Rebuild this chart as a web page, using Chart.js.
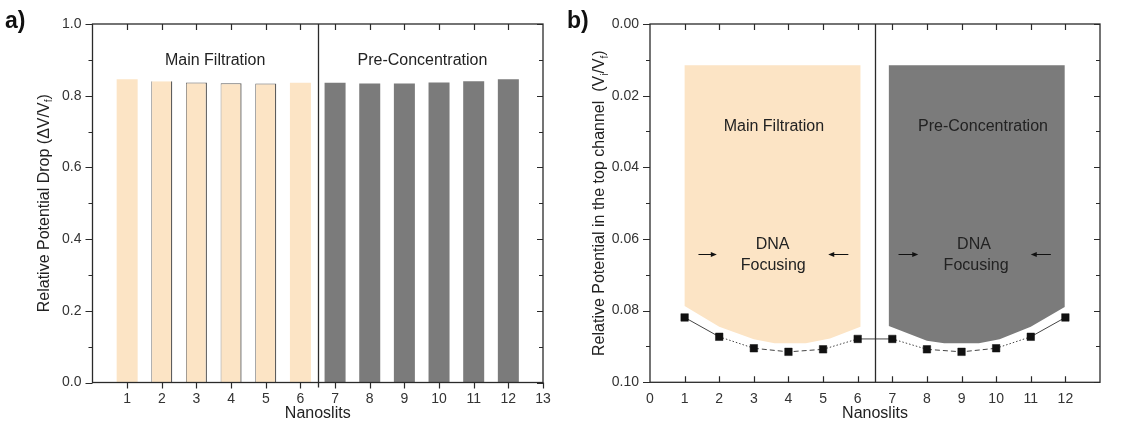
<!DOCTYPE html>
<html><head><meta charset="utf-8">
<script src="https://cdn.jsdelivr.net/npm/chart.js@4/dist/chart.umd.min.js"></script>
<style>
html,body{margin:0;padding:0;background:#fff;width:1133px;height:427px;overflow:hidden}
#wa{position:absolute;left:0;top:0;width:566px;height:427px}
#wb{position:absolute;left:566px;top:0;width:567px;height:427px}
canvas{display:block}
</style></head><body>
<div id="wa"><canvas id="ca" width="566" height="427"></canvas></div>
<div id="wb"><canvas id="cb" width="567" height="427"></canvas></div>
<script>
// ---------------- data ----------------
const slitsMain = [1, 2, 3, 4, 5, 6];
const slitsPre = [7, 8, 9, 10, 11, 12];
const dropMain = [0.846, 0.840, 0.837, 0.835, 0.834, 0.836];
const dropPre = [0.836, 0.834, 0.834, 0.837, 0.840, 0.846];

const nanoslits = [1, 2, 3, 4, 5, 6, 7, 8, 9, 10, 11, 12];
const topPotential = [0.0819, 0.0873, 0.0905, 0.0915, 0.0908, 0.0879, 0.0879, 0.0908, 0.0915, 0.0905, 0.0873, 0.0819];

const mainZoneX = [1.0, 1.0, 2.0, 3.0, 3.6, 4.5, 5.2, 6.08, 6.08, 1.0];
const mainZoneY = [0.0115, 0.0787, 0.0845, 0.0880, 0.0891, 0.0891, 0.0878, 0.0845, 0.0115, 0.0115];
const preZoneX = [6.9, 6.9, 8.0, 8.5, 9.5, 10.1, 11.0, 11.98, 11.98, 6.9];
const preZoneY = [0.0115, 0.0843, 0.0884, 0.0891, 0.0891, 0.0880, 0.0845, 0.0790, 0.0115, 0.0115];

const xTicksA = [1, 2, 3, 4, 5, 6, 7, 8, 9, 10, 11, 12, 13];
const yTicksA = [0, 0.2, 0.4, 0.6, 0.8, 1.0];
const xTicksB = [0, 1, 2, 3, 4, 5, 6, 7, 8, 9, 10, 11, 12];
const yTicksB = [0, 0.02, 0.04, 0.06, 0.08, 0.10];

// ---------------- styles ----------------
const FONT = "'Liberation Sans', Arial, sans-serif";
const PEACH = '#FCE4C5';
const GREY = '#7B7B7B';
const INK = '#2a2a2a';
const segDash = [[], [1.5, 2], [5, 3], [5, 3], [1.5, 2], [], [1.5, 2], [5, 3], [5, 3], [1.5, 2], []];

function drawRich(ctx, parts, cx, cy, size, rotate) {
  ctx.save();
  ctx.translate(cx, cy);
  if (rotate) ctx.rotate(-Math.PI / 2);
  ctx.fillStyle = '#222';
  ctx.textBaseline = 'middle';
  ctx.textAlign = 'left';
  let total = 0;
  const fnt = p => (p.sub ? Math.round(size * 0.65) : size) + 'px ' + FONT;
  parts.forEach(p => { ctx.font = fnt(p); total += ctx.measureText(p.t).width; });
  let x = -total / 2;
  parts.forEach(p => {
    ctx.font = fnt(p);
    ctx.fillText(p.t, x, p.sub ? size * 0.3 : 0);
    x += ctx.measureText(p.t).width;
  });
  ctx.restore();
}

function makeDecor(cfg) {
  return {
    id: 'decor',
    afterDatasetsDraw(chart) {
      const ctx = chart.ctx, a = chart.chartArea, x = chart.scales.x, y = chart.scales.y;
      ctx.save();
      // divider
      ctx.strokeStyle = INK; ctx.lineWidth = 1.3;
      const dx = Math.round(x.getPixelForValue(cfg.divider)) + 0.5;
      ctx.beginPath(); ctx.moveTo(dx, a.top); ctx.lineTo(dx, a.bottom + cfg.dividerExtra); ctx.stroke();
      // texts
      ctx.fillStyle = '#222';
      ctx.textAlign = 'center'; ctx.textBaseline = 'middle';
      ctx.font = '16px ' + FONT;
      cfg.texts.forEach(t => ctx.fillText(t.text, x.getPixelForValue(t.x), y.getPixelForValue(t.y)));
      // arrows
      ctx.strokeStyle = '#111'; ctx.fillStyle = '#111'; ctx.lineWidth = 1;
      (cfg.arrows || []).forEach(ar => {
        const x1 = x.getPixelForValue(ar.from), x2 = x.getPixelForValue(ar.to), py = Math.round(y.getPixelForValue(ar.y)) + 0.5;
        const dir = Math.sign(x2 - x1);
        ctx.beginPath(); ctx.moveTo(x1, py); ctx.lineTo(x2 - dir * 4, py); ctx.stroke();
        ctx.beginPath(); ctx.moveTo(x2, py); ctx.lineTo(x2 - dir * 6, py - 2.5); ctx.lineTo(x2 - dir * 6, py + 2.5); ctx.closePath(); ctx.fill();
      });
      // frame
      ctx.strokeStyle = INK; ctx.lineWidth = 1.3;
      ctx.strokeRect(a.left, a.top, a.right - a.left, a.bottom - a.top);
      // x ticks
      ctx.lineWidth = 1.2;
      cfg.xTicks.forEach(v => {
        const px = Math.round(x.getPixelForValue(v)) + 0.5;
        if (Math.abs(px - a.left) < 2) return;
        ctx.beginPath();
        ctx.moveTo(px, a.bottom); ctx.lineTo(px, a.bottom + (cfg.xBottomIn ? -6 : 6));
        if (Math.abs(px - a.right) > 2) { ctx.moveTo(px, a.top); ctx.lineTo(px, a.top + 6); }
        ctx.stroke();
      });
      // y ticks major / minor
      const yt = cfg.yTicks;
      for (let i = 0; i < yt.length; i++) {
        const py = Math.round(y.getPixelForValue(yt[i])) + 0.5;
        ctx.beginPath();
        ctx.moveTo(a.left, py); ctx.lineTo(a.left - 7, py);
        ctx.moveTo(a.right, py); ctx.lineTo(a.right - 6, py);
        ctx.stroke();
        if (i < yt.length - 1) {
          const pm = Math.round(y.getPixelForValue((yt[i] + yt[i + 1]) / 2)) + 0.5;
          ctx.beginPath();
          ctx.moveTo(a.left, pm); ctx.lineTo(a.left - 4, pm);
          ctx.moveTo(a.right, pm); ctx.lineTo(a.right - 4, pm);
          ctx.stroke();
        }
      }
      // axis titles
      drawRich(ctx, [{t: 'Nanoslits'}], (a.left + a.right) / 2, a.bottom + 31, 16, false);
      drawRich(ctx, cfg.yTitle, a.left + cfg.yTitleOffset, (a.top + a.bottom) / 2, 16, true);
      // panel letter
      ctx.fillStyle = '#111';
      ctx.font = 'bold 23px ' + FONT;
      ctx.textAlign = 'left'; ctx.textBaseline = 'alphabetic';
      ctx.fillText(cfg.letter, cfg.letterX, 28);
      ctx.restore();
    }
  };
}

function scaleOpts(min, max, ticksArr, fmt, reverse, pad, fit) {
  return {
    type: 'linear', min: min, max: max, reverse: !!reverse, offset: false,
    grid: {display: false, drawTicks: false}, border: {display: false},
    ticks: {color: '#333', font: {family: FONT, size: 14}, padding: pad, callback: fmt, maxRotation: 0, autoSkip: false},
    afterBuildTicks: s => { s.ticks = ticksArr.map(v => ({value: v})); },
    afterFit: fit
  };
}

// ---------------- panel a ----------------
new Chart(document.getElementById('ca'), {
  type: 'bar',
  data: {
    datasets: [
      {
        label: 'Main Filtration',
        data: slitsMain.map((s, i) => ({x: s, y: dropMain[i]})),
        backgroundColor: PEACH,
        borderColor: '#5d5d5d',
        borderSkipped: false,
        borderWidth: c => (c.dataIndex === 0 || c.dataIndex === 5) ? 0 :
          {left: 0.8, right: 1.3, top: (c.dataIndex >= 2 && c.dataIndex <= 4) ? 1 : 0, bottom: 0}
      },
      {
        label: 'Pre-Concentration',
        data: slitsPre.map((s, i) => ({x: s, y: dropPre[i]})),
        backgroundColor: GREY,
        borderWidth: 0
      }
    ]
  },
  options: {
    responsive: false, animation: false, devicePixelRatio: 1,
    layout: {padding: {left: 0, right: 23, top: 24, bottom: 0}},
    plugins: {legend: {display: false}, tooltip: {enabled: false}},
    datasets: {bar: {grouped: false, barPercentage: 0.606, categoryPercentage: 1}},
    scales: {
      x: scaleOpts(0, 13, xTicksA, v => String(v), false, 8, s => { s.height = 44.5; }),
      y: scaleOpts(0, 1, yTicksA, v => v.toFixed(1), false, 11, s => { s.width = 92.5; })
    }
  },
  plugins: [makeDecor({
    divider: 6.5, dividerExtra: 5, xBottomIn: false,
    xTicks: xTicksA, yTicks: yTicksA, letter: 'a)', letterX: 5, yTitleOffset: -48,
    yTitle: [{t: 'Relative Potential Drop (ΔV/V'}, {t: 'f', sub: true}, {t: ')'}],
    texts: [
      {text: 'Main Filtration', x: 3.54, y: 0.898},
      {text: 'Pre-Concentration', x: 9.52, y: 0.898}
    ]
  })]
});

// ---------------- panel b ----------------
new Chart(document.getElementById('cb'), {
  type: 'scatter',
  data: {
    datasets: [
      {
        label: 'Potential',
        data: nanoslits.map((s, i) => ({x: s, y: topPotential[i]})),
        showLine: true, borderColor: '#444', borderWidth: 1,
        pointStyle: 'rect', pointRadius: 5.3, pointBackgroundColor: '#111', pointBorderColor: '#111', pointBorderWidth: 0.5,
        segment: {borderDash: c => segDash[c.p0DataIndex]},
        order: 0
      },
      {
        label: 'Main Filtration zone',
        data: mainZoneX.map((v, i) => ({x: v, y: mainZoneY[i]})),
        showLine: true, borderWidth: 0, pointRadius: 0, fill: 'shape',
        backgroundColor: PEACH, borderColor: PEACH, order: 2
      },
      {
        label: 'Pre-Concentration zone',
        data: preZoneX.map((v, i) => ({x: v, y: preZoneY[i]})),
        showLine: true, borderWidth: 0, pointRadius: 0, fill: 'shape',
        backgroundColor: GREY, borderColor: GREY, order: 2
      }
    ]
  },
  options: {
    responsive: false, animation: false, devicePixelRatio: 1,
    layout: {padding: {left: 0, right: 33, top: 24, bottom: 0}},
    plugins: {legend: {display: false}, tooltip: {enabled: false}},
    scales: {
      x: scaleOpts(0, 13, xTicksB, v => String(v), false, 8, s => { s.height = 44.7; }),
      y: scaleOpts(0, 0.10, yTicksB, v => v.toFixed(2), true, 11, s => { s.width = 84; })
    }
  },
  plugins: [makeDecor({
    divider: 6.5, dividerExtra: 0, xBottomIn: true,
    xTicks: xTicksB, yTicks: yTicksB, letter: 'b)', letterX: 1, yTitleOffset: -50,
    yTitle: [{t: 'Relative Potential in the top channel  (V'}, {t: 'i', sub: true}, {t: '/V'}, {t: 'f', sub: true}, {t: ')'}],
    texts: [
      {text: 'Main Filtration', x: 3.58, y: 0.0285},
      {text: 'Pre-Concentration', x: 9.62, y: 0.0285},
      {text: 'DNA', x: 3.54, y: 0.0617},
      {text: 'Focusing', x: 3.56, y: 0.0675},
      {text: 'DNA', x: 9.36, y: 0.0617},
      {text: 'Focusing', x: 9.42, y: 0.0675}
    ],
    arrows: [
      {from: 1.40, to: 1.93, y: 0.0643},
      {from: 5.73, to: 5.15, y: 0.0643},
      {from: 7.18, to: 7.75, y: 0.0643},
      {from: 11.58, to: 11.0, y: 0.0643}
    ]
  })]
});
</script>
</body></html>
